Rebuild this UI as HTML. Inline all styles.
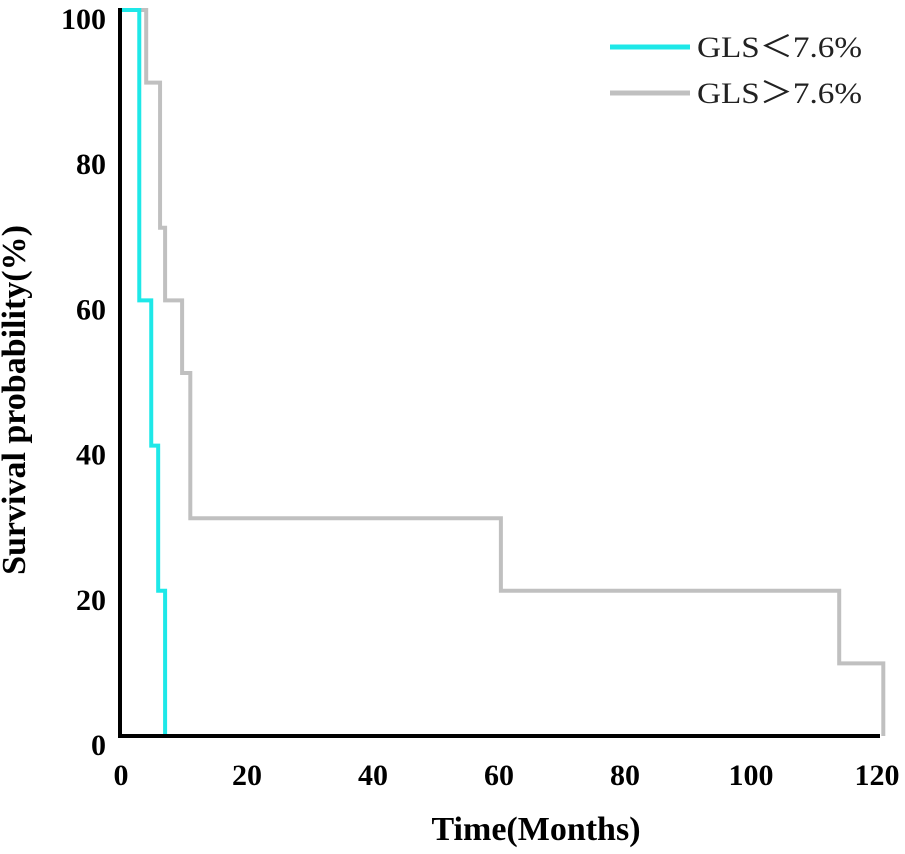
<!DOCTYPE html>
<html><head><meta charset="utf-8"><style>
body{margin:0;background:#fff;}
svg{display:block;font-family:"Liberation Serif",serif;}
</style></head><body>
<svg id="chart" width="905" height="854" viewBox="0 0 905 854">
<g id="plot"></g>
</svg>
<script>
const xTicks=[0,20,40,60,80,100,120];
const yTicks=[0,20,40,60,80,100];
const lowTimes=[0,2.9,4.8,5.9,7.0];
const lowSurv=[100,60,40,20,0];
const highTimes=[0,4.0,6.2,7.0,9.7,11.0,60.3,114.0,121.0];
const highSurv=[100,90,70,60,50,30,20,10,0];
const seriesNames=["GLS＜7.6%","GLS＞7.6%"];

const NS="http://www.w3.org/2000/svg";
const g=document.getElementById('plot');
const X=v=>121+v*(877-121)/120;
const Y=v=>736-v*(736-10)/100;
function mk(t,a,p){const e=document.createElementNS(NS,t);for(const k in a)e.setAttribute(k,a[k]);(p||g).appendChild(e);return e;}
function stepPath(ts,ss){let d=`M${X(ts[0])},${Y(ss[0])}`;for(let i=1;i<ts.length;i++){d+=` H${X(ts[i])} V${Y(ss[i])}`;}return d;}

let hp=mk('path',{d:stepPath(highTimes,highSurv),fill:'none',stroke:'#c0c0c0','stroke-width':4});


let lp=mk('path',{d:stepPath(lowTimes,lowSurv),fill:'none',stroke:'#1ee8e8','stroke-width':4});



let ax=mk('path',{d:`M120,8 V736 H${X(120)+3}`,fill:'none',stroke:'#000','stroke-width':4});



xTicks.forEach(v=>{const t=mk('text',{x:X(v),y:785,'text-anchor':'middle','font-size':30,'font-weight':'bold'});t.textContent=v;

});
yTicks.forEach(v=>{const t=mk('text',{x:106,y:Y(v)+19,'text-anchor':'end','font-size':30,'font-weight':'bold'});t.textContent=v;

});

let xt=mk('text',{x:536,y:840,'text-anchor':'middle','font-size':34,'font-weight':'bold'});xt.textContent='Time(Months)';


let yt=mk('text',{x:0,y:0,transform:'translate(25,400) rotate(-90)','text-anchor':'middle','font-size':34,'font-weight':'bold'});yt.textContent='Survival probability(%)';



const cols=['#1ee8e8','#c0c0c0'];
seriesNames.forEach((n,i)=>{const yy=47+i*46;
const l=mk('line',{x1:610,x2:690,y1:yy,y2:yy,stroke:cols[i],'stroke-width':5});


const t=mk('text',{x:697,y:yy+10,'font-size':30,fill:'#222',textLength:165,lengthAdjust:'spacingAndGlyphs'});t.textContent=n;

});
</script>
</body></html>
